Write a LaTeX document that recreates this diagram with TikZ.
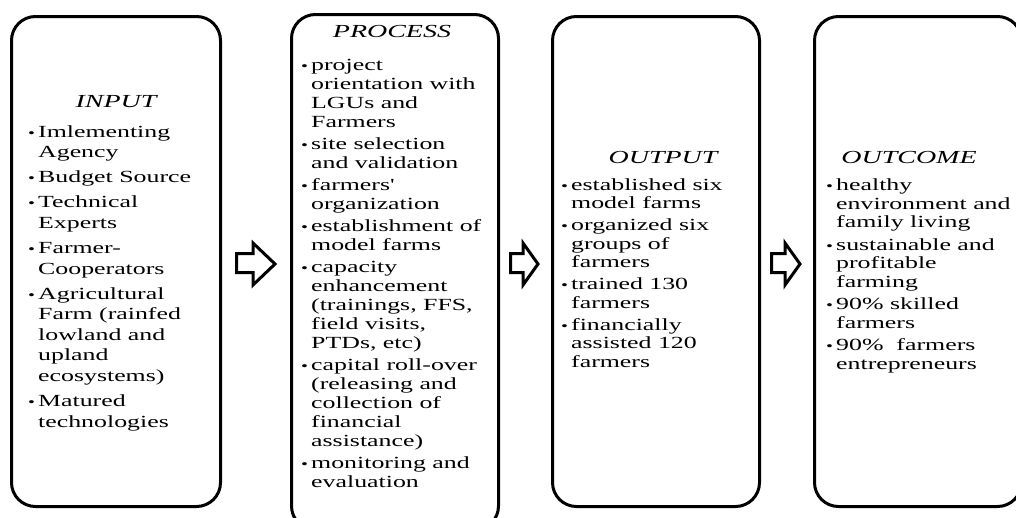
\documentclass[tikz,border=0pt]{standalone}
\usepackage{fontspec}
\setmainfont{Liberation Serif}[FakeStretch=1.52]
\newcommand{\bul}{\makebox[10pt][l]{\raisebox{0pt}{\fontsize{13}{13}\selectfont\textbullet}}}

\begin{document}
\begin{tikzpicture}[x=1pt, y=-1pt,
  box/.style={draw, line width=3pt, rounded corners=24pt, inner sep=0pt},
  hd/.style={anchor=base, inner sep=0pt, font=\fontsize{18.4}{20}\selectfont\itshape},
  lst/.style={anchor=base west, inner sep=0pt, font=\fontsize{17}{#1}\selectfont},
  blockarr/.style={line width=3pt, line join=miter}]
  \useasboundingbox (0,0) rectangle (1016,517);
  % boxes
  \node[box, minimum width=209pt, minimum height=490pt]   (inp)  at (116,261.5)  {};
  \node[box, minimum width=207pt, minimum height=515.5pt] (proc) at (395,272.25) {};
  \node[box, minimum width=207pt, minimum height=490pt]   (outp) at (656,261.5)  {};
  \node[box, minimum width=207pt, minimum height=490pt]   (outc) at (918,261.5)  {};
  % input
  \node[hd] (inph) at (116,107) {INPUT};
  \node[lst=20.5] (inpl) at (28,137) {\begin{tabular}[t]{@{}l@{}l@{}}
    \bul & Imlementing\\ & Agency\\[4.7pt]
    \bul & Budget Source\\[4.7pt]
    \bul & Technical\\ & Experts\\[4.7pt]
    \bul & Farmer-\\ & Cooperators\\[4.7pt]
    \bul & Agricultural\\ & Farm (rainfed\\ & lowland and\\ & upland\\ & ecosystems)\\[4.7pt]
    \bul & Matured\\ & technologies
  \end{tabular}};
  % process
  \node[hd] (proch) at (392,37) {PROCESS};
  \node[lst=19] (procl) at (301,70) {\begin{tabular}[t]{@{}l@{}l@{}}
    \bul & project\\ & orientation with\\ & LGUs and\\ & Farmers\\[3pt]
    \bul & site selection\\ & and validation\\[3pt]
    \bul & farmers\textquotesingle\\ & organization\\[3pt]
    \bul & establishment of\\ & model farms\\[3pt]
    \bul & capacity\\ & enhancement\\ & (trainings, FFS,\\ & field visits,\\ & PTDs, etc)\\[3pt]
    \bul & capital roll-over\\ & (releasing and\\ & collection of\\ & financial\\ & assistance)\\[3pt]
    \bul & monitoring and\\ & evaluation
  \end{tabular}};
  % output
  \node[hd] (outph) at (663,163) {OUTPUT};
  \node[lst=18.5] (outpl) at (561,190) {\begin{tabular}[t]{@{}l@{}l@{}}
    \bul & established six\\ & model farms\\[3.5pt]
    \bul & organized six\\ & groups of\\ & farmers\\[3.5pt]
    \bul & trained 130\\ & farmers\\[3.5pt]
    \bul & financially\\ & assisted 120\\ & farmers
  \end{tabular}};
  % outcome
  \node[hd] (outch) at (909,163) {OUTCOME};
  \node[lst=18.5] (outcl) at (826,190.5) {\begin{tabular}[t]{@{}l@{}l@{}}
    \bul & healthy\\ & environment and\\ & family living\\[4pt]
    \bul & sustainable and\\ & profitable\\ & farming\\[4pt]
    \bul & 90\% skilled\\ & farmers\\[4pt]
    \bul & 90\%\ \ farmers\\ & entrepreneurs
  \end{tabular}};
  % block arrows between boxes
  \foreach \xa/\xb/\xc in {236.5/253/275, 510.5/523/538, 771.5/785/800}
    \draw[blockarr] (\xa,253.5) -- (\xb,253.5) -- (\xb,243) -- (\xc,264)
      -- (\xb,285) -- (\xb,272.5) -- (\xa,272.5) -- cycle;
\end{tikzpicture}
\end{document}
